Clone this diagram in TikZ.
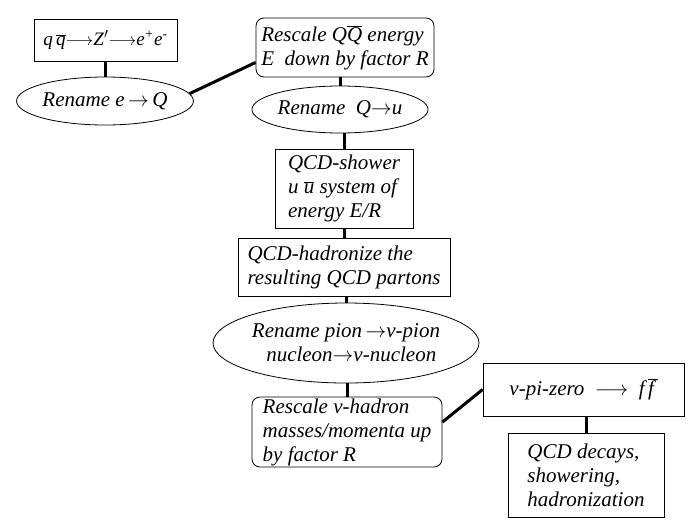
\documentclass[tikz,border=0pt]{standalone}
\usepackage{fontspec}
\setmainfont{Liberation Serif}
\usetikzlibrary{shapes.geometric,calc}
\newcommand{\ovl}[1]{$\overline{\hbox{#1}}$}
\begin{document}
\begin{tikzpicture}[x=1pt,y=-1pt,
 every node/.style={font=\fontsize{21}{24}\selectfont\itshape, inner sep=0pt, line width=0.8pt},
 sqbox/.style={draw, rectangle},
 rbox/.style={draw, rectangle, rounded corners=8pt},
 oval/.style={draw, ellipse},
 link/.style={line width=3pt}]
\useasboundingbox (0,0) rectangle (700,525);
\node[sqbox, minimum width=143pt, minimum height=42pt, font=\fontsize{19}{24}\selectfont\itshape] (b1) at (105.5,40)
  {q\,\ovl{q}$\longrightarrow$Z$'$$\longrightarrow$e\textsuperscript{+}e\textsuperscript{-}};
\node[oval, minimum width=166pt, minimum height=48pt] (e1) at (105,101)
  {Rename\ e$\,\rightarrow$\,Q};
\node[rbox, minimum width=178pt, minimum height=59pt, align=left] (b2) at (345,47.5)
  {Rescale Q\ovl{Q} energy\\E\ \ down by factor R};
\node[oval, minimum width=170pt, minimum height=47pt] (e2) at (340,109.5)
  {Rename\ \ Q$\rightarrow$u};
\node[sqbox, minimum width=138pt, minimum height=79pt, align=left] (b3) at (344,188.5)
  {QCD-shower\\u \ovl{u} system of\\energy E/R};
\node[sqbox, minimum width=212pt, minimum height=58pt, align=left] (b4) at (344,267)
  {QCD-hadronize the\\resulting QCD partons};
\node[oval, minimum width=248pt, minimum height=80pt, align=center] (e3) at (346,343)
  {Rename pion$\,\rightarrow$v-pion\\\ \ nucleon$\rightarrow$v-nucleon};
\node[rbox, minimum width=190pt, minimum height=70pt, align=left] (b5) at (347,432)
  {Rescale v-hadron\\masses/momenta up\\by factor R};
\node[sqbox, minimum width=201pt, minimum height=53pt] (b6) at (583.5,389.5)
  {v-pi-zero\ \ $\longrightarrow$\ \ f\,\ovl{f\,}};
\node[sqbox, minimum width=156pt, minimum height=84pt, align=left] (b7) at (586,475)
  {QCD decays,\\showering,\\hadronization};
\draw[link] (b1.south) -- (b1.south |- e1.north);
\draw[link] (e1.5) -- ($(b2.south west)!0.25!(b2.north west)$);
\draw[link] (e2.north) -- (e2.north |- b2.south);
\draw[link] (b3.north) -- (b3.north |- e2.south);
\draw[link] (b3.south) -- (b3.south |- b4.north);
\draw[link] (e3.north) -- (e3.north |- b4.south);
\draw[link] (b5.north) -- (b5.north |- e3.south);
\draw[link] ($(b5.north east)!0.36!(b5.south east)$) -- (b6.west);
\draw[link] (b7.north) -- (b7.north |- b6.south);
\end{tikzpicture}
\end{document}
